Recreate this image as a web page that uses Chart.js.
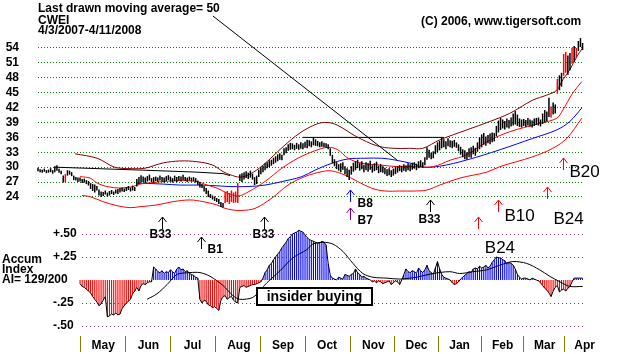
<!DOCTYPE html>
<html><head><meta charset="utf-8">
<script src="https://cdn.jsdelivr.net/npm/chart.js@4.4.1/dist/chart.umd.min.js"></script>
<style>html,body{margin:0;padding:0;background:#fff;overflow:hidden}canvas{display:block}</style>
</head><body>
<canvas id="c" width="618" height="354"></canvas>
<script>
// ---------- data ----------
const ticker = 'CWEI';
const dateRange = '4/3/2007-4/11/2008';
const priceTicks = [24, 27, 30, 33, 36, 39, 42, 45, 48, 51, 54];
const aiTicks = [0.5, 0.25, -0.25, -0.5];
const aiTickLabels = ['+.50', '+.25', '-.25', '-.50'];
const monthTicks = [31, 52.5, 73.5, 95.5, 116.5, 137.5, 159.5, 180, 200.5, 221, 241, 260];
const monthLabels = ['May', 'Jun', 'Jul', 'Aug', 'Sep', 'Oct', 'Nov', 'Dec', 'Jan', 'Feb', 'Mar', 'Apr'];

// daily low / high, trading day 0 = 4/3/2007
const priceLo = [
29.2,29.0,28.9,29.1,28.8,28.9,29.0,28.7,29.0,29.3,
28.9,28.6,26.9,27.0,28.3,28.5,28.2,27.4,27.3,27.0,
27.1,26.8,26.9,26.6,26.3,25.6,25.2,24.9,25.3,24.3,
24.0,24.2,24.5,24.1,24.3,24.6,24.4,24.7,24.6,24.9,
25.1,25.0,25.2,25.4,25.1,25.3,25.2,26.1,26.6,26.9,
27.0,26.8,27.1,27.3,27.0,26.9,27.2,27.0,27.3,27.1,
26.9,27.2,27.4,27.1,26.9,27.2,27.0,27.3,27.1,27.4,
27.2,27.0,27.3,27.1,27.2,26.9,26.4,25.9,25.8,25.1,
24.6,24.0,23.8,23.5,23.2,23.0,22.6,22.0,21.9,22.8,
23.0,22.6,23.0,22.8,22.9,22.8,27.2,27.0,27.5,27.8,
27.6,27.9,27.5,26.4,26.6,28.0,28.6,29.0,29.4,29.8,
30.0,30.3,30.6,30.9,31.2,31.5,31.4,32.4,32.8,33.3,
33.5,33.6,33.4,33.7,33.5,33.7,33.6,33.9,33.8,34.2,
34.0,34.4,34.3,34.2,34.0,34.1,34.0,33.9,33.6,32.3,
30.8,30.2,29.6,29.3,29.0,29.5,28.6,28.0,27.4,28.5,
29.1,29.4,29.8,29.3,29.6,29.0,29.4,29.1,29.5,28.9,
29.2,29.4,28.8,29.0,28.9,28.6,28.2,28.4,28.0,28.3,
28.6,28.9,29.2,29.0,29.3,29.1,29.4,29.2,29.5,29.7,
29.4,29.8,30.0,29.9,30.4,31.5,31.9,31.6,31.8,32.6,
33.0,33.4,33.8,34.0,33.6,34.2,34.0,33.8,34.1,33.9,
33.2,32.5,32.0,31.6,31.5,32.0,31.9,32.6,32.3,33.1,
33.6,34.0,34.5,34.3,34.8,34.6,35.0,35.2,36.2,37.0,
37.5,37.8,37.6,38.0,37.8,38.2,38.4,38.6,38.3,38.1,
38.0,38.3,38.1,38.4,38.2,38.0,38.3,38.5,38.4,38.2,
38.7,39.0,39.2,40.1,40.0,40.6,40.8,44.8,45.5,46.2,
48.4,49.0,48.6,49.5,50.8,51.2,52.0,53.4,54.2,53.6];
const priceHi = [
29.9,29.6,29.5,29.7,29.4,29.5,29.8,29.4,30.2,30.4,
29.7,29.3,28.3,28.6,29.4,29.3,29.0,28.3,28.0,27.9,
27.9,27.6,27.7,27.4,27.2,26.8,26.6,26.5,26.2,25.5,
25.1,25.0,25.3,24.9,25.2,25.4,25.1,25.5,25.6,25.8,
25.9,25.7,26.0,26.2,25.9,26.3,26.0,27.6,28.0,28.4,
28.1,27.9,28.2,28.5,27.8,28.0,28.1,27.9,28.3,28.0,
27.9,28.2,28.4,28.1,27.8,28.3,28.0,28.2,28.1,28.5,
28.0,27.9,28.1,27.9,28.0,27.8,27.3,27.0,26.6,26.2,
25.8,25.3,24.6,24.3,24.1,23.8,23.6,23.0,22.8,25.0,
25.2,24.8,25.3,24.9,25.1,26.8,28.6,28.8,29.0,29.2,
28.9,29.3,28.7,28.0,28.3,29.5,30.0,30.3,30.8,31.0,
31.4,31.5,31.9,32.2,32.6,32.8,32.5,33.8,34.0,34.6,
34.9,34.8,34.5,34.9,34.6,35.0,34.8,35.1,35.5,35.4,
35.2,35.9,35.6,35.3,35.0,35.2,34.9,34.8,34.6,33.8,
32.5,31.6,31.0,30.6,30.8,31.0,30.2,29.8,29.5,30.2,
30.9,31.2,31.5,30.8,31.2,30.5,31.0,30.8,31.3,30.4,
30.8,31.1,30.3,30.6,30.2,29.9,29.6,29.8,29.4,29.7,
30.1,30.2,30.4,30.3,30.6,30.4,30.8,30.6,30.9,31.0,
30.7,31.2,31.4,31.0,32.0,34.0,33.5,32.9,33.2,34.4,
35.0,35.3,35.9,35.6,35.2,35.8,35.4,35.3,35.5,35.0,
34.6,34.1,33.6,33.4,33.0,33.8,34.0,34.3,33.9,35.0,
36.0,36.6,36.9,36.2,36.5,36.8,37.0,36.9,38.3,39.4,
39.9,39.6,39.3,39.8,39.5,40.0,40.8,41.3,40.6,39.8,
39.6,39.7,39.5,39.9,39.6,39.4,39.8,39.9,40.0,39.6,
40.8,41.5,41.2,44.0,42.2,43.0,42.6,47.8,48.5,49.0,
52.8,53.2,52.5,53.0,54.0,54.4,54.0,55.4,56.0,55.0];
const redBars = [13, 89, 90, 91, 92, 93, 94, 95, 244, 247, 250, 251, 254, 256];

// bands: [trading day, price]
const maroonBand = [[17.6,32.7],[28.1,31.8],[35.7,30.1],[39,29.8],[45,29.7],[50.9,29.8],[59.5,30.85],[67.5,31.25],[75.6,31.1],[83.2,30.4],[88,29.1],[91.3,28.5],[96,28.0],[100.8,28.6],[107,30.4],[116.5,34.1],[124.6,36.9],[132.6,38.7],[137.4,39.0],[142.2,38.5],[151.7,36.1],[161.2,34.3],[168.8,33.8],[176.8,33.8],[183,33.8],[191.1,35.5],[203.9,37.5],[214.9,39.2],[224.4,40.85],[235.3,43.5],[241.9,44.5],[246.7,45.5],[249.6,47.6],[252.9,49.6],[256.2,52.2],[259,54.0]];
const innerBand = [[20,28.1],[24.8,27.8],[28.1,26.8],[32.8,26.1],[39,25.8],[45.2,26.1],[48.5,26.6],[54.7,26.9],[59.5,27.1],[67.5,27.3],[75.6,27.1],[80.4,26.4],[85.1,25.8],[89.9,24.8],[95.1,24.2],[99.9,25.0],[107.9,27.1],[116,29.8],[123.6,31.8],[131.7,33.3],[137.9,34.0],[142.6,33.5],[147.4,31.8],[154,30.8],[163.5,30.4],[171.1,30.1],[179.2,30.1],[187.8,30.1],[196,31.4],[203.9,32.5],[213.4,35.1],[224.4,37.15],[238.6,38.8],[246.7,39.85],[249.6,41.5],[254.3,44.9],[258.6,47.2]];
const lowerBand = [[21,24.3],[24.8,24.06],[30.9,23.06],[37.6,22.25],[43.8,21.85],[48.5,22.05],[56.6,22.4],[64.2,23.06],[72.3,23.4],[78.5,23.06],[85.1,22.4],[88,21.85],[92.3,21.4],[97,21.3],[103.2,21.7],[111.3,23.8],[118.9,26.4],[126.9,28.1],[135,29.1],[139.8,29.24],[146,28.4],[152.1,27.1],[158.8,25.75],[165,25.2],[172,25.2],[179.2,25.2],[184.9,25.4],[191.1,26.4],[200.6,27.8],[213.4,29.0],[219.6,30.1],[235.3,32.1],[244.8,33.8],[251.5,35.8],[258.6,39.85]];
const movingAvg50 = [[47.1,26.8],[59.5,26.6],[67.5,26.4],[75.6,26.4],[83.2,26.3],[91.3,26.1],[99.9,26.1],[108,26.4],[116,27.1],[125.5,28.1],[131.7,29.4],[139.8,30.8],[147.4,31.65],[155.4,31.8],[163.5,31.8],[169.7,31.45],[179.2,30.6],[183,30.0],[191.1,30.2],[203.9,31.45],[219.6,33.5],[235.3,35.8],[246.7,37.5],[252.9,39.2],[258.6,41.9]];
const resistance1 = [[8.1,30.0],[35.7,29.6],[50,29.4],[75.6,29.0],[88,28.7],[91.3,28.3]];
const resistance2 = [[126,36.0],[193,36.0]];
const pointerLine = [[83.2,60.44],[170.7,31.45]];

// Accumulation Index, daily from trading day 20
const aiStart = 20;
const aiValues = [
-0.04,-0.07,-0.08,-0.10,-0.12,-0.14,-0.18,-0.21,-0.24,-0.28,
-0.26,-0.22,-0.18,-0.40,-0.39,-0.37,-0.38,-0.36,-0.38,-0.37,
-0.31,-0.28,-0.25,-0.23,-0.21,-0.15,-0.12,-0.08,-0.12,-0.06,
-0.04,-0.05,-0.03,-0.02,-0.02,0.14,0.12,0.09,0.08,0.10,
0.07,0.09,0.08,0.11,0.09,0.07,0.12,0.14,0.11,0.12,
0.09,0.10,0.07,0.06,0.05,0.03,0.02,-0.21,-0.25,-0.22,
-0.23,-0.27,-0.28,-0.30,-0.29,-0.31,-0.33,-0.22,-0.18,-0.17,
-0.21,-0.19,-0.18,-0.22,-0.24,-0.25,-0.08,-0.07,-0.06,-0.08,
-0.07,-0.06,-0.05,-0.05,-0.04,-0.03,-0.02,0.02,0.08,0.11,
0.16,0.18,0.22,0.25,0.28,0.31,0.35,0.38,0.41,0.45,
0.47,0.50,0.51,0.52,0.54,0.53,0.52,0.49,0.46,0.44,
0.43,0.42,0.41,0.40,0.40,0.42,0.41,0.38,0.18,0.05,
0.02,0.01,0.00,0.03,0.02,0.01,0.06,0.05,0.04,0.06,
0.07,0.12,0.08,0.06,0.03,0.04,0.02,0.01,0.00,-0.02,
-0.01,-0.03,-0.01,-0.02,-0.04,-0.03,-0.02,-0.01,-0.05,-0.03,
-0.01,-0.02,-0.05,0.00,0.06,0.12,0.09,0.08,0.10,0.09,
0.07,0.13,0.10,0.08,0.11,0.16,0.10,0.08,0.06,0.13,
0.20,0.12,0.06,0.03,0.02,0.01,0.00,-0.03,-0.05,-0.04,
-0.02,0.01,0.03,0.05,0.07,0.09,0.08,0.12,0.13,0.12,
0.15,0.13,0.14,0.16,0.13,0.15,0.19,0.22,0.25,0.24,
0.24,0.22,0.21,0.17,0.19,0.18,0.16,0.12,0.06,0.03,
0.01,0.02,0.02,0.01,0.00,0.02,0.01,0.00,-0.01,-0.03,
-0.06,-0.09,-0.11,-0.14,-0.18,-0.12,-0.08,-0.06,-0.13,-0.11,
-0.10,-0.12,-0.09,-0.07,-0.02,0.02,0.02,0.02,0.02,0.02];
const aiMA = [[51.9,-0.21],[56.6,-0.15],[61.4,-0.05],[66.1,0.06],[72.3,0.08],[77,0.08],[81.8,0.04],[88,-0.06],[92.7,-0.17],[96,-0.21],[102.2,-0.19],[105.6,-0.11],[108.9,-0.03],[115.1,0.10],[121.2,0.24],[127.9,0.33],[130.7,0.39],[135.5,0.41],[140.3,0.39],[145,0.31],[149.8,0.18],[154.5,0.07],[159.3,0.03],[165.9,0.02],[172.1,0.01],[180.1,0.03],[187.8,0.07],[195.9,0.09],[200.6,0.07],[206.8,0.09],[213.4,0.11],[219.6,0.16],[225.8,0.20],[232.4,0.18],[238.6,0.11],[243.4,0.04],[248.2,-0.02],[252.9,-0.07],[259,-0.07]];

// buy signals: trading day, price at arrow tip, label
const signalDay   = [59, 77.5, 107.5, 148.3, 148.3, 186.4, 209.2, 218.7, 241.9, 249.6];
const signalPrice = [19.98, 15.95, 19.98, 25.41, 21.79, 23.40, 19.98, 23.40, 26.02, 31.85];
const signalLabel = ['B33', 'B1', 'B33', 'B8', 'B7', 'B33', '', 'B10', 'B24', 'B20'];
const aiSignal = { day: 212.5, value: 0.29, label: 'B24' };
const insiderBox = { from: 104.1, to: 158.8, top: -0.084, bottom: -0.268, label: 'insider buying' };
const aiGridStart = 21;

// ---------- styles ----------
const FONT = '"Liberation Sans", Arial, sans-serif';
Chart.defaults.font.family = FONT;
const signalColor = ['#000000','#000000','#000000','#0000ff','#800080','#000000','#ff0000','#ff0000','#ff0000','#ff0000'];
const signalLabelStyle = [
  {dx:-2, dy:21, al:'center', big:false}, {dx:6, dy:16, al:'left', big:false},
  {dx:-1, dy:21, al:'center', big:false}, {dx:7, dy:17, al:'left', big:false},
  {dx:7, dy:16, al:'left', big:false}, {dx:-1, dy:23, al:'center', big:false},
  null, {dx:6, dy:21, al:'left', big:true}, {dx:6, dy:37, al:'left', big:true},
  {dx:6, dy:19, al:'left', big:true}];

const toXY = arr => arr.map(([x, y]) => ({x, y}));
const line = (data, color, axis, tension, order) => ({
  type: 'line', data, yAxisID: axis, borderColor: color, borderWidth: 1,
  pointRadius: 0, tension, order, fill: false
});

const deco = {
  id: 'deco',
  beforeDatasetsDraw(chart) {
    const {ctx, chartArea: a, scales: {x, yA}} = chart;
    ctx.save();
    ctx.strokeStyle = '#804080'; ctx.lineWidth = 1; ctx.setLineDash([1, 3]);
    const x0 = Math.round(x.getPixelForValue(aiGridStart));
    aiTicks.forEach(v => {
      const y = Math.round(yA.getPixelForValue(v)) + 0.5;
      ctx.beginPath(); ctx.moveTo(x0, y); ctx.lineTo(a.right, y); ctx.stroke();
    });
    ctx.restore();
  },
  afterDatasetsDraw(chart) {
    const {ctx, scales: {x, yP, yA}} = chart;
    ctx.save();
    signalDay.forEach((d, k) => {
      const px = Math.round(x.getPixelForValue(d)) + 0.5;
      const py = Math.round(yP.getPixelForValue(signalPrice[k]));
      ctx.strokeStyle = signalColor[k]; ctx.lineWidth = 1;
      ctx.beginPath();
      ctx.moveTo(px, py); ctx.lineTo(px, py + 12);
      ctx.moveTo(px - 4, py + 5); ctx.lineTo(px, py); ctx.lineTo(px + 4, py + 5);
      ctx.stroke();
      const st = signalLabelStyle[k];
      if (st && signalLabel[k]) {
        ctx.fillStyle = '#000';
        ctx.font = st.big ? '17px ' + FONT : 'bold 12px ' + FONT;
        ctx.textAlign = st.al; ctx.textBaseline = 'alphabetic';
        ctx.fillText(signalLabel[k], px + st.dx, py + st.dy);
      }
    });
    ctx.fillStyle = '#000'; ctx.font = '17px ' + FONT; ctx.textAlign = 'left';
    ctx.fillText(aiSignal.label, x.getPixelForValue(aiSignal.day), yA.getPixelForValue(aiSignal.value));
    const bx0 = Math.round(x.getPixelForValue(insiderBox.from)), bx1 = Math.round(x.getPixelForValue(insiderBox.to));
    const by0 = Math.round(yA.getPixelForValue(insiderBox.top)), by1 = Math.round(yA.getPixelForValue(insiderBox.bottom));
    ctx.fillStyle = '#fff'; ctx.fillRect(bx0, by0, bx1 - bx0, by1 - by0);
    ctx.strokeStyle = '#000'; ctx.lineWidth = 2; ctx.strokeRect(bx0, by0, bx1 - bx0, by1 - by0);
    ctx.fillStyle = '#000'; ctx.font = 'bold 14px ' + FONT; ctx.textAlign = 'center';
    ctx.fillText(insiderBox.label, (bx0 + bx1) / 2, by1 - 4);
    ctx.restore();
  },
  afterDraw(chart) {
    const {ctx} = chart;
    ctx.save();
    ctx.fillStyle = '#000'; ctx.font = 'bold 12px ' + FONT; ctx.textAlign = 'left'; ctx.textBaseline = 'alphabetic';
    ctx.fillText('Last drawn moving average= 50', 38, 12);
    ctx.fillText(ticker, 38, 24);
    ctx.fillText(dateRange, 38, 34);
    ctx.fillText('(C) 2006, www.tigersoft.com', 421, 25);
    ctx.fillText('Accum', 2, 263);
    ctx.fillText('Index', 2, 273);
    ctx.fillText('AI= 129/200', 2, 283);
    ctx.restore();
  }
};

new Chart(document.getElementById('c'), {
  type: 'bar',
  data: { datasets: [
    { type: 'bar', yAxisID: 'yP', order: 0, grouped: false, maxBarThickness: 1.5, clip: false,
      data: priceLo.map((lo, i) => ({x: i, y: [lo, priceHi[i]]})),
      backgroundColor: c => redBars.includes(c.dataIndex) ? '#ff0000' : '#000000' },
    line(toXY(pointerLine), '#000000', 'yP', 0, 0),
    line(toXY(maroonBand), '#800000', 'yP', 0.35, 2),
    line(toXY(innerBand), '#ff0000', 'yP', 0.35, 2),
    line(toXY(lowerBand), '#ff0000', 'yP', 0.35, 2),
    line(toXY(movingAvg50), '#0000ff', 'yP', 0.35, 2),
    line(toXY(resistance1), '#000000', 'yP', 0, 2),
    line(toXY(resistance2), '#000000', 'yP', 0, 2),
    { type: 'bar', yAxisID: 'yA', order: 3, grouped: false, maxBarThickness: 1.1,
      data: aiValues.map((v, k) => ({x: aiStart + k, y: [0, v]})),
      backgroundColor: c => (c.raw && c.raw.y[1] < 0) ? '#ff0000' : '#0000ff' },
    line(aiValues.map((v, k) => ({x: aiStart + k, y: v})), '#000000', 'yA', 0, 1),
    line(toXY(aiMA), '#000000', 'yA', 0.3, 1)
  ]},
  options: {
    responsive: false, animation: false, devicePixelRatio: 1, events: [],
    layout: { padding: { left: 0, right: 35, top: 0, bottom: 0 } },
    plugins: { legend: { display: false }, tooltip: { enabled: false } },
    scales: {
      x: {
        type: 'linear', min: 0, max: 259.2, offset: false,
        afterBuildTicks: s => { s.ticks = monthTicks.map(v => ({value: v})); },
        afterFit: s => { s.height = 18; s.paddingLeft = 0; s.paddingRight = 0; },
        grid: { display: true, drawOnChartArea: false, drawTicks: true, tickLength: 16, offset: true, tickColor: '#808000', tickWidth: 1 },
        border: { display: false },
        ticks: { autoSkip: false, maxRotation: 0, minRotation: 0, padding: -14, color: '#000',
                 font: { weight: 'bold', size: 12 }, callback: (v, i) => monthLabels[i] }
      },
      yP: {
        type: 'linear', position: 'left', weight: 2, min: -3.99, max: 63.66,
        afterBuildTicks: s => { s.ticks = priceTicks.map(v => ({value: v})); },
        afterFit: s => { s.width = 38; s.paddingTop = 0; s.paddingBottom = 0; },
        grid: { color: '#008000', lineWidth: 1, drawTicks: false },
        border: { display: false, dash: [1, 2] },
        ticks: { padding: 19, color: '#000', font: { weight: 'bold', size: 12 }, callback: v => String(v) }
      },
      yA: {
        type: 'linear', position: 'left', weight: 1, min: -0.609, max: 3.043,
        afterBuildTicks: s => { s.ticks = aiTicks.map(v => ({value: v})); },
        afterFit: s => { s.width = 0; s.paddingTop = 0; s.paddingBottom = 0; },
        grid: { display: false },
        border: { display: false },
        ticks: { mirror: true, padding: 15, color: '#000', font: { weight: 'bold', size: 12 },
                 callback: (v, i) => aiTickLabels[i] }
      }
    }
  },
  plugins: [deco]
});
</script>
</body></html>
